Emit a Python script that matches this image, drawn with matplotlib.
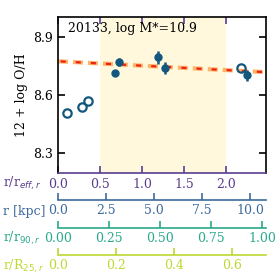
import numpy as np
import matplotlib
matplotlib.use('Agg')
import matplotlib.pyplot as plt

plt.rcParams['font.family'] = 'DejaVu Serif'
plt.rcParams['font.size'] = 9

# radius in units of r_eff
open_x = [0.107, 0.286, 0.357, 2.18]
open_y = [8.508, 8.539, 8.569, 8.737]
fill_x = [0.68, 0.726, 1.19, 1.27, 2.25]
fill_y = [8.712, 8.768, 8.793, 8.737, 8.700]
fill_err = [0.015, 0.02, 0.035, 0.03, 0.03]

fit_intercept = 8.773
fit_slope = -0.0226

r_eff_kpc = 4.375
r90_kpc = 10.62
r25_kpc = 15.1

col_pt = '#13577f'
c_eff = '#5a3d8f'
c_kpc = '#3d6a9c'
c_r90 = '#2aa98a'
c_r25 = '#bcd934'

fig = plt.figure(figsize=(2.77, 2.77), dpi=100)
ax = fig.add_axes([0.2094, 0.3755, 0.7509, 0.5631])

xmax = 2.476
ax.axvspan(0.5, 2.0, color='#fff8dc', zorder=0, lw=0)

xx = np.array([0, xmax])
ax.plot(xx, fit_intercept + fit_slope * xx, color='#ffb366', lw=3, ls=(0, (2.4, 1.2)), zorder=2)
ax.plot(xx, fit_intercept + fit_slope * xx, color='#e8231a', lw=1.6, ls=(5.6, (2.3, 4.5)), zorder=3)

ax.plot(open_x, open_y, 'o', mfc='none', mec=col_pt, mew=1.6, ms=6, zorder=4)
ax.errorbar(fill_x, fill_y, yerr=fill_err, fmt='o', color=col_pt, ms=5, elinewidth=1.8,
            capsize=0, zorder=5)

ax.set_xlim(0, xmax)
ax.set_ylim(8.2, 9.0)
ax.set_yticks([8.3, 8.6, 8.9])
ax.set_xticks([0.0, 0.5, 1.0, 1.5, 2.0])
ax.tick_params(direction='in', top=True, right=True, length=5, width=1.2)
ax.tick_params(axis='x', colors=c_eff)
ax.tick_params(axis='y', colors='black')
for s in ['top', 'left', 'right']:
    ax.spines[s].set_linewidth(1.2)
ax.spines['bottom'].set_color(c_eff)
ax.spines['bottom'].set_linewidth(1.2)
ax.set_ylabel('12 + log O/H')
ax.text(0.05, 0.97, '20133, log M*=10.9', transform=ax.transAxes, ha='left', va='top')

# extra radial scales below the main axis
scales = [
    (r'r [kpc]', c_kpc, r_eff_kpc, [0, 2.5, 5, 7.5, 10], '{:.1f}', -0.173),
    (r'r/r$_{90,r}$', c_r90, r_eff_kpc / r90_kpc, [0, 0.25, 0.5, 0.75, 1.0], '{:.2f}', -0.353),
    (r'r/R$_{25,r}$', c_r25, r_eff_kpc / r25_kpc, [0, 0.2, 0.4, 0.6], '{:.1f}', -0.526),
]
for name, col, fac, ticks, fmt, loc in scales:
    sec = ax.secondary_xaxis(loc, functions=(lambda x, f=fac: x * f, lambda x, f=fac: x / f))
    sec.set_xticks(ticks)
    sec.set_xticklabels([fmt.format(t) for t in ticks])
    sec.tick_params(direction='in', colors=col, length=5, width=1.2, pad=3)
    sec.spines['bottom'].set_color(col)
    sec.spines['bottom'].set_linewidth(1.2)

labels = [(r'r/r$_{eff,r}$', c_eff, -0.064), ('r [kpc]', c_kpc, -0.244),
          (r'r/r$_{90,r}$', c_r90, -0.417), (r'r/R$_{25,r}$', c_r25, -0.596)]
for txt, col, y in labels:
    ax.text(-0.266, y, txt, color=col, transform=ax.transAxes, ha='left', va='center')

fig.savefig('out.png', dpi=100)
